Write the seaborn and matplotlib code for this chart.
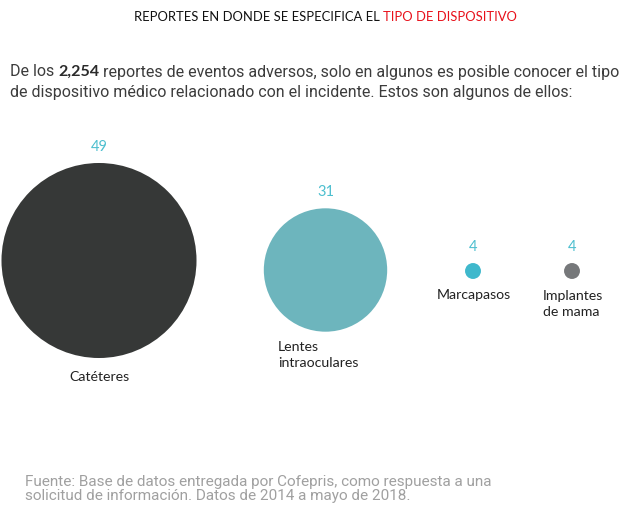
import matplotlib
matplotlib.use("Agg")
import matplotlib.pyplot as plt
import seaborn as sns
import pandas as pd

# datos
dispositivos = ["Catéteres", "Lentes intraoculares", "Marcapasos", "Implantes de mama"]
reportes = [49, 31, 4, 4]
etiquetas = ["Catéteres", "Lentes\nintraoculares", "Marcapasos", "Implantes\nde mama"]
colores = ["#363837", "#6db5bd", "#3fb8cc", "#76787a"]

# layout (en pixeles)
centros_x = [99, 325.5, 473, 572]
centros_y = [260.5, 270, 271, 271]
px_por_reporte = 1.99
etiqueta_pos = [(99, 377, "center"), (278, 355, "left"), (474, 295, "center"), (543, 304.5, "left")]

sns.set_theme(style="white")
plt.rcParams["font.family"] = ["Lato", "DejaVu Sans"]

W, H = 619, 514
fig = plt.figure(figsize=(W / 100, H / 100), dpi=100)
ax = fig.add_axes([0, 0, 1, 1])

df = pd.DataFrame({"dispositivo": dispositivos, "reportes": reportes,
                   "x": centros_x, "y": centros_y})
# radio proporcional al valor; tamaño de marcador en pt^2
tamanos = {d: (2 * v * px_por_reporte * 0.72) ** 2 for d, v in zip(dispositivos, reportes)}

sns.scatterplot(data=df, x="x", y="y", hue="dispositivo", palette=dict(zip(dispositivos, colores)),
                size="dispositivo", sizes=tamanos, linewidth=0, legend=False, ax=ax)

ax.set_xlim(0, W)
ax.set_ylim(H, 0)
ax.axis("off")

for i, v in enumerate(reportes):
    r = v * px_por_reporte
    ax.text(centros_x[i], centros_y[i] - r - 16, str(v), ha="center", va="center",
            color="#4dbfcf", fontsize=10.5)
    x, y, al = etiqueta_pos[i]
    ax.text(x, y, etiquetas[i], ha=al, va="center", color="#222222", fontsize=10.2,
            linespacing=1.4)

fig.canvas.draw()
renderer = fig.canvas.get_renderer()


def texto_partes(x, y, partes, **kw):
    # dibuja trozos de texto uno tras otro en la misma linea
    for txt, estilo in partes:
        t = ax.text(x, y, txt, ha="left", va="center", **{**kw, **estilo})
        bb = t.get_window_extent(renderer)
        x = x + bb.width


titulo = [("REPORTES EN DONDE SE ESPECIFICA EL ", {"color": "#111111"}),
          ("TIPO DE DISPOSITIVO", {"color": "#e8101a"})]
# centrar titulo
ancho = 0
for txt, estilo in titulo:
    t = ax.text(0, 0, txt, fontsize=9.4, **estilo)
    ancho += t.get_window_extent(renderer).width
    t.remove()
texto_partes(325.5 - ancho / 2, 17, titulo, fontsize=9.4)

sub = dict(fontsize=11.5, family=["Roboto", "DejaVu Sans"], color="#3c3c3c")
texto_partes(10, 72, [("De los ", {}), ("2,254", {"weight": "bold", "family": ["Lato", "DejaVu Sans"], "color": "#2a2a2a"}),
                      (" reportes de eventos adversos, solo en algunos es posible conocer el tipo", {})], **sub)
texto_partes(10, 93, [("de dispositivo médico relacionado con el incidente. Estos son algunos de ellos:", {})], **sub)

ax.text(25, 489, "Fuente: Base de datos entregada por Cofepris, como respuesta a una\n"
        "solicitud de información. Datos de 2014 a mayo de 2018.",
        ha="left", va="center", fontsize=10.95, color="#a0a0a0", linespacing=1.0,
        family=["Roboto", "DejaVu Sans"])

fig.savefig("out.png", dpi=100)
